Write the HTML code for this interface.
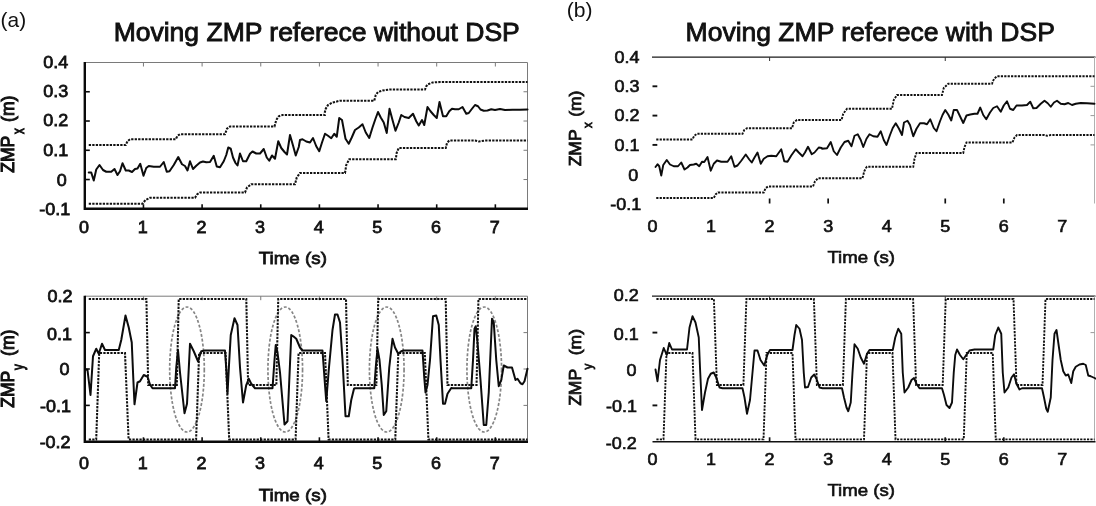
<!DOCTYPE html>
<html lang="en"><head><meta charset="utf-8"><title>Moving ZMP reference</title>
<style>html,body{margin:0;padding:0;background:#fff;}body{width:1096px;height:506px;overflow:hidden;}svg{display:block;filter:blur(0.45px);}</style>
</head><body>
<svg width="1096" height="506" viewBox="0 0 1096 506" font-family="'Liberation Sans', sans-serif" fill="#111">
<rect width="1096" height="506" fill="#fff"/>
<path d="M84.8,62.5 H527.5 V208.8" fill="none" stroke="#7a7a7a" stroke-width="1"/>
<path d="M143.45,62.5 v4" stroke="#7a7a7a" stroke-width="1" fill="none"/>
<path d="M202.10,62.5 v4" stroke="#7a7a7a" stroke-width="1" fill="none"/>
<path d="M260.75,62.5 v4" stroke="#7a7a7a" stroke-width="1" fill="none"/>
<path d="M319.40,62.5 v4" stroke="#7a7a7a" stroke-width="1" fill="none"/>
<path d="M378.05,62.5 v4" stroke="#7a7a7a" stroke-width="1" fill="none"/>
<path d="M436.70,62.5 v4" stroke="#7a7a7a" stroke-width="1" fill="none"/>
<path d="M495.35,62.5 v4" stroke="#7a7a7a" stroke-width="1" fill="none"/>
<path d="M527.5,91.76 h-4" stroke="#7a7a7a" stroke-width="1" fill="none"/>
<path d="M527.5,121.02 h-4" stroke="#7a7a7a" stroke-width="1" fill="none"/>
<path d="M527.5,150.28 h-4" stroke="#7a7a7a" stroke-width="1" fill="none"/>
<path d="M527.5,179.54 h-4" stroke="#7a7a7a" stroke-width="1" fill="none"/>
<path d="M84.8,62.0 V208.8 H528.0" fill="none" stroke="#0a0a0a" stroke-width="2.4" stroke-linejoin="miter"/>
<path d="M143.45,208.8 v-4.5" stroke="#0a0a0a" stroke-width="1.6" fill="none"/>
<path d="M202.10,208.8 v-4.5" stroke="#0a0a0a" stroke-width="1.6" fill="none"/>
<path d="M260.75,208.8 v-4.5" stroke="#0a0a0a" stroke-width="1.6" fill="none"/>
<path d="M319.40,208.8 v-4.5" stroke="#0a0a0a" stroke-width="1.6" fill="none"/>
<path d="M378.05,208.8 v-4.5" stroke="#0a0a0a" stroke-width="1.6" fill="none"/>
<path d="M436.70,208.8 v-4.5" stroke="#0a0a0a" stroke-width="1.6" fill="none"/>
<path d="M495.35,208.8 v-4.5" stroke="#0a0a0a" stroke-width="1.6" fill="none"/>
<path d="M84.8,91.76 h5" stroke="#0a0a0a" stroke-width="1.6" fill="none"/>
<path d="M84.8,121.02 h5" stroke="#0a0a0a" stroke-width="1.6" fill="none"/>
<path d="M84.8,150.28 h5" stroke="#0a0a0a" stroke-width="1.6" fill="none"/>
<path d="M84.8,179.54 h5" stroke="#0a0a0a" stroke-width="1.6" fill="none"/>
<path d="M88.75,145.00 L125.75,145.00 L127.50,141.25 L130.00,139.25 L175.75,139.25 L177.50,135.75 L180.00,134.25 L225.00,134.25 L227.00,128.75 L230.00,126.50 L274.50,126.50 L276.25,120.00 L278.75,116.25 L282.50,115.00 L324.50,115.00 L324.25,114.50 L325.75,108.75 L328.00,105.00 L332.50,102.50 L340.00,100.75 L374.25,100.75 L375.75,95.00 L378.00,92.00 L382.50,90.50 L390.00,89.50 L425.00,89.50 L426.25,86.25 L428.00,84.25 L432.50,82.50 L440.00,82.00 L527.50,82.00" fill="none" stroke="#111" stroke-width="2.05" stroke-dasharray="2.3 1.2"/>
<path d="M88.75,203.75 L142.50,203.75 L145.50,200.00 L150.00,197.75 L195.00,197.75 L197.00,194.50 L200.00,192.50 L245.00,192.50 L247.00,187.50 L251.25,184.25 L295.00,184.25 L296.75,177.50 L300.00,173.00 L345.00,173.00 L345.00,173.00 L346.25,165.00 L349.25,159.25 L395.75,159.25 L396.75,152.50 L398.75,148.00 L445.75,148.00 L447.00,143.00 L449.25,140.50 L475.00,140.50 L478.75,141.50 L485.00,140.50 L527.50,140.50" fill="none" stroke="#111" stroke-width="2.05" stroke-dasharray="2.3 1.2"/>
<path d="M88.75,172.50 L91.25,172.50 L93.75,180.50 L96.25,169.50 L99.50,165.00 L103.00,170.00 L106.25,171.75 L111.25,171.75 L114.50,169.00 L117.50,175.00 L120.00,171.25 L122.50,163.25 L125.75,170.50 L128.75,170.50 L132.00,172.00 L135.00,169.00 L137.50,168.50 L140.25,163.75 L143.50,175.75 L146.25,168.00 L148.75,166.00 L153.75,166.75 L160.00,166.75 L163.75,162.00 L166.75,171.75 L169.50,171.25 L173.75,165.00 L178.25,157.00 L182.00,164.25 L185.00,166.00 L187.50,170.50 L190.00,161.25 L193.00,169.00 L196.25,165.75 L200.00,162.50 L203.00,161.50 L206.25,162.25 L210.00,162.00 L213.75,155.75 L216.75,166.50 L220.00,167.25 L223.75,161.25 L226.25,155.00 L228.25,147.50 L230.75,148.75 L233.00,157.50 L235.50,163.00 L237.50,165.50 L240.00,153.50 L243.00,161.25 L246.25,161.25 L250.00,153.75 L252.50,151.50 L256.25,153.50 L260.00,153.50 L263.75,149.00 L266.75,157.50 L269.25,160.75 L272.00,155.50 L275.00,158.75 L278.25,141.25 L281.25,148.00 L284.50,152.00 L287.00,154.50 L290.00,135.00 L293.00,145.50 L295.75,155.50 L298.75,147.00 L300.00,140.00 L302.50,139.25 L306.25,141.50 L310.00,142.50 L313.00,138.00 L316.25,146.25 L319.25,151.25 L322.00,142.50 L325.00,133.75 L328.00,135.75 L331.25,138.25 L334.25,133.75 L336.75,136.75 L339.25,118.00 L342.00,120.00 L345.50,138.75 L348.75,143.75 L351.75,137.50 L355.00,130.00 L358.75,127.50 L362.50,124.25 L365.75,132.50 L369.25,138.00 L372.50,127.50 L375.50,118.75 L378.00,112.00 L380.75,117.50 L383.75,122.50 L386.75,133.00 L389.50,108.75 L392.50,120.00 L395.50,130.75 L398.75,122.50 L401.25,115.00 L404.50,117.00 L408.75,118.00 L413.00,113.75 L416.25,121.25 L418.75,125.50 L422.00,120.00 L424.25,125.00 L427.50,107.00 L430.50,111.25 L433.75,115.00 L436.75,118.00 L439.50,102.00 L443.00,116.25 L446.25,116.25 L449.25,111.25 L452.00,108.75 L455.00,109.25 L458.75,109.25 L462.50,107.00 L466.25,113.75 L468.75,113.00 L472.00,108.75 L475.00,105.00 L478.00,106.25 L480.50,109.50 L483.75,110.75 L487.50,110.50 L491.25,109.25 L495.00,110.00 L500.00,109.00 L505.00,110.00 L512.50,109.75 L520.00,109.75 L527.50,109.50" fill="none" stroke="#0c0c0c" stroke-width="2.0" stroke-linejoin="round" stroke-linecap="round"/>
<path d="M84.8,296.2 H527.5 V441.8" fill="none" stroke="#7a7a7a" stroke-width="1"/>
<path d="M143.45,296.2 v4" stroke="#7a7a7a" stroke-width="1" fill="none"/>
<path d="M202.10,296.2 v4" stroke="#7a7a7a" stroke-width="1" fill="none"/>
<path d="M260.75,296.2 v4" stroke="#7a7a7a" stroke-width="1" fill="none"/>
<path d="M319.40,296.2 v4" stroke="#7a7a7a" stroke-width="1" fill="none"/>
<path d="M378.05,296.2 v4" stroke="#7a7a7a" stroke-width="1" fill="none"/>
<path d="M436.70,296.2 v4" stroke="#7a7a7a" stroke-width="1" fill="none"/>
<path d="M495.35,296.2 v4" stroke="#7a7a7a" stroke-width="1" fill="none"/>
<path d="M527.5,332.60 h-4" stroke="#7a7a7a" stroke-width="1" fill="none"/>
<path d="M527.5,369.00 h-4" stroke="#7a7a7a" stroke-width="1" fill="none"/>
<path d="M527.5,405.40 h-4" stroke="#7a7a7a" stroke-width="1" fill="none"/>
<ellipse cx="187" cy="369.5" rx="17.3" ry="62.5" fill="none" stroke="#858585" stroke-width="1.7" stroke-dasharray="3 1.8"/>
<ellipse cx="285.25" cy="369.5" rx="17.3" ry="62.5" fill="none" stroke="#858585" stroke-width="1.7" stroke-dasharray="3 1.8"/>
<ellipse cx="386.75" cy="369.5" rx="17.3" ry="62.5" fill="none" stroke="#858585" stroke-width="1.7" stroke-dasharray="3 1.8"/>
<ellipse cx="484.25" cy="369.5" rx="17.3" ry="62.5" fill="none" stroke="#858585" stroke-width="1.7" stroke-dasharray="3 1.8"/>
<path d="M88.75,298.90 L146.40,298.90 L148.20,385.00 L176.85,385.00 L178.75,298.90 L246.30,298.90 L248.10,385.00 L276.35,385.00 L278.25,298.90 L346.00,298.90 L347.80,385.00 L376.35,385.00 L378.25,298.90 L445.70,298.90 L447.50,385.00 L476.55,385.00 L478.45,298.90 L527.50,298.90" fill="none" stroke="#111" stroke-width="2.05" stroke-dasharray="2.3 1.2"/>
<path d="M88.75,439.40 L96.20,439.40 L99.20,353.00 L125.00,353.00 L128.60,439.40 L196.10,439.40 L199.10,353.00 L225.60,353.00 L229.20,439.40 L295.60,439.40 L298.60,353.00 L325.00,353.00 L328.60,439.40 L395.30,439.40 L398.30,353.00 L424.80,353.00 L428.40,439.40 L527.50,439.40" fill="none" stroke="#111" stroke-width="2.05" stroke-dasharray="2.3 1.2"/>
<path d="M85.50,369.50 L87.50,370.00 L90.50,395.00 L93.00,356.25 L96.25,348.75 L98.75,353.75 L102.00,343.75 L105.00,350.00 L118.75,350.00 L121.25,340.00 L125.50,315.50 L128.75,327.50 L131.75,342.50 L133.25,377.50 L134.50,404.25 L137.50,382.50 L140.00,381.25 L143.75,375.00 L147.50,376.75 L150.00,384.50 L152.50,388.25 L175.00,388.25 L176.25,367.50 L178.00,350.00 L180.00,372.50 L184.50,413.25 L187.00,403.75 L190.00,343.75 L193.75,351.25 L198.00,361.25 L201.25,351.25 L205.00,350.50 L225.00,350.50 L226.50,372.50 L227.50,393.75 L229.00,365.00 L230.75,335.00 L234.50,318.25 L237.50,325.00 L240.00,367.50 L243.00,402.50 L246.25,385.00 L248.75,378.75 L251.25,383.75 L255.00,388.25 L272.50,388.25 L274.50,360.00 L275.75,345.00 L277.50,352.50 L280.00,372.50 L284.50,424.50 L287.50,421.25 L291.25,335.00 L293.25,336.25 L296.25,338.75 L300.00,347.50 L302.50,350.50 L322.50,350.50 L325.00,385.00 L326.25,401.25 L328.75,370.00 L332.50,330.00 L335.00,314.50 L337.50,314.50 L340.00,322.50 L342.50,360.00 L345.50,416.25 L348.75,416.25 L351.25,400.00 L354.00,388.75 L355.00,388.25 L374.25,388.25 L375.75,367.50 L377.50,348.75 L379.50,360.00 L381.75,385.00 L383.75,415.00 L386.25,411.25 L389.25,367.50 L392.50,338.75 L395.00,347.50 L398.25,353.75 L401.25,351.25 L403.75,350.50 L422.50,350.50 L424.25,377.50 L425.50,392.50 L427.50,385.00 L430.00,360.00 L433.00,316.25 L436.25,315.50 L438.75,325.00 L440.50,360.00 L443.00,403.75 L445.00,403.75 L447.50,393.75 L451.25,388.00 L453.00,388.25 L471.25,388.25 L473.00,360.00 L474.50,328.75 L475.75,326.25 L477.50,342.50 L480.50,380.00 L483.75,425.00 L486.25,425.00 L488.75,392.50 L492.00,318.75 L493.75,322.50 L496.25,360.00 L498.75,386.25 L501.25,380.00 L503.75,365.50 L507.50,367.50 L512.00,367.50 L515.50,380.00 L517.50,378.75 L520.50,383.25 L522.50,384.25 L524.50,381.25 L527.50,368.75" fill="none" stroke="#0c0c0c" stroke-width="2.0" stroke-linejoin="round" stroke-linecap="round"/>
<path d="M84.8,295.7 V441.8 H528.0" fill="none" stroke="#0a0a0a" stroke-width="2.4"/>
<path d="M143.45,441.8 v-4.5" stroke="#0a0a0a" stroke-width="1.6" fill="none"/>
<path d="M202.10,441.8 v-4.5" stroke="#0a0a0a" stroke-width="1.6" fill="none"/>
<path d="M260.75,441.8 v-4.5" stroke="#0a0a0a" stroke-width="1.6" fill="none"/>
<path d="M319.40,441.8 v-4.5" stroke="#0a0a0a" stroke-width="1.6" fill="none"/>
<path d="M378.05,441.8 v-4.5" stroke="#0a0a0a" stroke-width="1.6" fill="none"/>
<path d="M436.70,441.8 v-4.5" stroke="#0a0a0a" stroke-width="1.6" fill="none"/>
<path d="M495.35,441.8 v-4.5" stroke="#0a0a0a" stroke-width="1.6" fill="none"/>
<path d="M84.8,332.60 h5" stroke="#0a0a0a" stroke-width="1.6" fill="none"/>
<path d="M84.8,369.00 h5" stroke="#0a0a0a" stroke-width="1.6" fill="none"/>
<path d="M84.8,405.40 h5" stroke="#0a0a0a" stroke-width="1.6" fill="none"/>
<text transform="translate(0.60,26.80) scale(1.020,1)" font-size="20.5" text-anchor="start" font-weight="normal" >(a)</text>
<text transform="translate(316.70,40.50) scale(1.020,1)" font-size="26" text-anchor="middle" font-weight="normal" stroke="#111" stroke-width="0.9">Moving ZMP referece without DSP</text>
<text transform="translate(68.30,68.49) scale(1.040,1)" font-size="17.3" text-anchor="end" font-weight="normal" stroke="#111" stroke-width="0.75">0.4</text>
<text transform="translate(68.30,97.45) scale(1.040,1)" font-size="17.3" text-anchor="end" font-weight="normal" stroke="#111" stroke-width="0.75">0.3</text>
<text transform="translate(68.30,126.21) scale(1.040,1)" font-size="17.3" text-anchor="end" font-weight="normal" stroke="#111" stroke-width="0.75">0.2</text>
<text transform="translate(68.30,155.97) scale(1.040,1)" font-size="17.3" text-anchor="end" font-weight="normal" stroke="#111" stroke-width="0.75">0.1</text>
<text transform="translate(66.80,186.03) scale(1.040,1)" font-size="17.3" text-anchor="end" font-weight="normal" stroke="#111" stroke-width="0.75">0</text>
<text transform="translate(70.30,215.29) scale(1.040,1)" font-size="17.3" text-anchor="end" font-weight="normal" stroke="#111" stroke-width="0.75">-0.1</text>
<text transform="translate(84.10,232.80) scale(1.040,1)" font-size="17.3" text-anchor="middle" font-weight="normal" stroke="#111" stroke-width="0.75">0</text>
<text transform="translate(142.75,232.80) scale(1.040,1)" font-size="17.3" text-anchor="middle" font-weight="normal" stroke="#111" stroke-width="0.75">1</text>
<text transform="translate(201.40,232.80) scale(1.040,1)" font-size="17.3" text-anchor="middle" font-weight="normal" stroke="#111" stroke-width="0.75">2</text>
<text transform="translate(260.05,232.80) scale(1.040,1)" font-size="17.3" text-anchor="middle" font-weight="normal" stroke="#111" stroke-width="0.75">3</text>
<text transform="translate(318.70,232.80) scale(1.040,1)" font-size="17.3" text-anchor="middle" font-weight="normal" stroke="#111" stroke-width="0.75">4</text>
<text transform="translate(377.35,232.80) scale(1.040,1)" font-size="17.3" text-anchor="middle" font-weight="normal" stroke="#111" stroke-width="0.75">5</text>
<text transform="translate(436.00,232.80) scale(1.040,1)" font-size="17.3" text-anchor="middle" font-weight="normal" stroke="#111" stroke-width="0.75">6</text>
<text transform="translate(494.65,232.80) scale(1.040,1)" font-size="17.3" text-anchor="middle" font-weight="normal" stroke="#111" stroke-width="0.75">7</text>
<text transform="translate(292.80,263.90) scale(1.088,1)" font-size="17.3" text-anchor="middle" font-weight="normal" stroke="#111" stroke-width="0.75">Time (s)</text>
<text transform="translate(72.50,301.89) scale(1.040,1)" font-size="17.3" text-anchor="end" font-weight="normal" stroke="#111" stroke-width="0.75">0.2</text>
<text transform="translate(72.00,340.19) scale(1.040,1)" font-size="17.3" text-anchor="end" font-weight="normal" stroke="#111" stroke-width="0.75">0.1</text>
<text transform="translate(69.50,375.19) scale(1.040,1)" font-size="17.3" text-anchor="end" font-weight="normal" stroke="#111" stroke-width="0.75">0</text>
<text transform="translate(70.90,412.09) scale(1.040,1)" font-size="17.3" text-anchor="end" font-weight="normal" stroke="#111" stroke-width="0.75">-0.1</text>
<text transform="translate(70.60,448.29) scale(1.040,1)" font-size="17.3" text-anchor="end" font-weight="normal" stroke="#111" stroke-width="0.75">-0.2</text>
<text transform="translate(84.10,469.30) scale(1.040,1)" font-size="17.3" text-anchor="middle" font-weight="normal" stroke="#111" stroke-width="0.75">0</text>
<text transform="translate(142.75,469.30) scale(1.040,1)" font-size="17.3" text-anchor="middle" font-weight="normal" stroke="#111" stroke-width="0.75">1</text>
<text transform="translate(201.40,469.30) scale(1.040,1)" font-size="17.3" text-anchor="middle" font-weight="normal" stroke="#111" stroke-width="0.75">2</text>
<text transform="translate(260.05,469.30) scale(1.040,1)" font-size="17.3" text-anchor="middle" font-weight="normal" stroke="#111" stroke-width="0.75">3</text>
<text transform="translate(318.70,469.30) scale(1.040,1)" font-size="17.3" text-anchor="middle" font-weight="normal" stroke="#111" stroke-width="0.75">4</text>
<text transform="translate(377.35,469.30) scale(1.040,1)" font-size="17.3" text-anchor="middle" font-weight="normal" stroke="#111" stroke-width="0.75">5</text>
<text transform="translate(436.00,469.30) scale(1.040,1)" font-size="17.3" text-anchor="middle" font-weight="normal" stroke="#111" stroke-width="0.75">6</text>
<text transform="translate(494.65,469.30) scale(1.040,1)" font-size="17.3" text-anchor="middle" font-weight="normal" stroke="#111" stroke-width="0.75">7</text>
<text transform="translate(292.80,500.90) scale(1.088,1)" font-size="17.3" text-anchor="middle" font-weight="normal" stroke="#111" stroke-width="0.75">Time (s)</text>
<g>
<text transform="translate(14.0,172.8) rotate(-90) scale(1,1.04)" font-size="17.5" stroke="#111" stroke-width="1.0">ZMP</text>
<text transform="translate(23.8,133.9) rotate(-90) scale(1,1.38)" font-size="11.5" stroke="#111" stroke-width="0.80">x</text>
<text transform="translate(14.0,121.9) rotate(-90) scale(1,1.04)" font-size="17.5" stroke="#111" stroke-width="1.0">(m)</text>
</g>
<g>
<text transform="translate(14.0,407.8) rotate(-90) scale(1,1.04)" font-size="17.5" stroke="#111" stroke-width="1.0">ZMP</text>
<text transform="translate(23.8,369.9) rotate(-90) scale(1,1.38)" font-size="11.5" stroke="#111" stroke-width="0.80">y</text>
<text transform="translate(14.0,355.9) rotate(-90) scale(1,1.04)" font-size="17.5" stroke="#111" stroke-width="1.0">(m)</text>
</g>
<path d="M652.0,57.1 H1095.5" fill="none" stroke="#1a1a1a" stroke-width="1.25"/>
<path d="M1094.5,57.0 V203.5" fill="none" stroke="#b0b0b0" stroke-width="1"/>
<path d="M1094.5,86.30 h-4" stroke="#999" stroke-width="1" fill="none"/>
<path d="M1094.5,115.60 h-4" stroke="#999" stroke-width="1" fill="none"/>
<path d="M1094.5,144.90 h-4" stroke="#999" stroke-width="1" fill="none"/>
<path d="M769.60,57.0 v4" stroke="#333" stroke-width="1" fill="none"/>
<path d="M945.25,57.0 v4" stroke="#333" stroke-width="1" fill="none"/>
<path d="M769.60,203.5 v-5" stroke="#111" stroke-width="1.7" fill="none"/>
<path d="M828.15,203.5 v-5" stroke="#111" stroke-width="1.7" fill="none"/>
<path d="M945.25,203.5 v-5" stroke="#111" stroke-width="1.7" fill="none"/>
<path d="M1003.80,203.5 v-5" stroke="#111" stroke-width="1.7" fill="none"/>
<path d="M652.5,86.30 h4.8" stroke="#111" stroke-width="1.9" fill="none"/>
<path d="M652.5,115.60 h4.8" stroke="#111" stroke-width="1.9" fill="none"/>
<path d="M652.5,144.90 h4.8" stroke="#111" stroke-width="1.9" fill="none"/>
<path d="M656.25,139.50 L692.50,139.50 L694.25,135.75 L697.00,133.75 L742.50,133.75 L744.25,130.00 L747.00,128.25 L792.00,128.25 L793.75,122.50 L797.00,120.00 L841.25,120.00 L841.50,120.00 L843.25,113.75 L847.00,108.75 L892.00,108.75 L893.75,100.00 L897.00,95.00 L942.00,95.00 L943.75,88.00 L948.25,83.75 L992.00,83.75 L994.00,78.75 L997.00,76.25 L1094.50,76.25" fill="none" stroke="#111" stroke-width="1.9" stroke-dasharray="2.2 1.2"/>
<path d="M656.25,198.00 L713.75,198.00 L715.75,194.25 L718.00,192.50 L763.75,192.50 L765.50,188.25 L768.00,186.50 L813.00,186.50 L815.00,181.25 L818.00,178.25 L862.50,178.25 L864.25,171.25 L866.25,167.50 L867.00,166.75 L913.25,166.75 L914.50,158.75 L916.50,153.00 L963.25,153.00 L964.50,147.00 L966.50,142.50 L1012.50,142.50 L1014.50,137.50 L1017.00,135.00 L1044.50,135.00 L1047.00,135.75 L1050.75,135.00 L1094.50,135.00" fill="none" stroke="#111" stroke-width="1.9" stroke-dasharray="2.2 1.2"/>
<path d="M655.50,167.00 L657.50,164.25 L659.25,166.25 L661.25,175.50 L663.25,165.00 L666.75,160.00 L670.00,164.50 L673.75,166.25 L678.00,166.25 L681.25,162.50 L684.50,169.50 L687.50,167.50 L690.00,165.00 L693.75,164.50 L696.25,163.75 L699.25,166.25 L702.00,161.75 L704.25,162.00 L707.50,157.00 L710.75,170.75 L713.75,163.75 L717.00,160.50 L721.25,161.75 L727.50,161.75 L731.25,156.25 L734.50,166.75 L737.50,165.50 L741.25,160.75 L745.75,154.50 L749.25,159.50 L751.75,162.50 L754.50,157.50 L757.50,152.50 L760.75,163.75 L763.75,158.75 L767.50,156.25 L771.25,155.75 L776.25,156.25 L781.25,149.25 L784.25,161.25 L787.50,161.75 L791.25,155.50 L795.75,149.25 L798.75,152.50 L802.50,156.25 L805.00,152.50 L808.00,146.75 L811.75,154.25 L814.50,152.50 L818.75,147.50 L821.75,148.00 L822.00,148.75 L827.00,148.25 L830.75,142.00 L833.75,151.25 L837.00,155.00 L840.75,147.50 L844.50,142.00 L848.25,140.75 L851.50,146.25 L854.50,135.75 L857.75,134.25 L860.75,140.00 L863.25,147.00 L866.50,138.75 L869.50,134.25 L873.25,136.25 L877.50,136.75 L880.75,131.25 L883.75,140.00 L886.50,145.00 L890.00,135.00 L892.75,128.00 L895.75,123.25 L899.00,128.75 L902.00,135.00 L904.00,122.50 L907.50,120.75 L910.00,125.00 L913.25,136.25 L916.50,128.75 L920.00,123.25 L924.00,123.25 L927.00,124.25 L930.25,119.25 L933.75,128.00 L936.50,131.25 L940.00,121.25 L942.50,115.00 L945.25,110.00 L948.25,114.50 L951.25,120.50 L953.75,110.00 L957.00,110.00 L960.00,116.25 L963.25,123.00 L966.50,115.50 L970.25,114.50 L974.50,113.75 L977.50,113.75 L980.25,107.50 L983.25,115.00 L986.25,119.25 L990.00,112.50 L993.25,108.00 L997.00,106.25 L1000.75,111.75 L1003.75,105.50 L1007.00,101.25 L1010.00,108.75 L1013.25,110.00 L1016.50,105.50 L1022.00,105.50 L1027.00,105.00 L1030.25,101.75 L1033.25,108.25 L1036.50,108.00 L1040.75,103.75 L1044.50,100.75 L1047.75,103.25 L1050.75,106.75 L1054.00,102.50 L1057.00,100.75 L1060.75,103.75 L1064.50,104.25 L1068.25,103.00 L1072.00,105.00 L1075.75,103.75 L1080.75,103.00 L1087.00,103.25 L1094.50,103.75" fill="none" stroke="#0c0c0c" stroke-width="1.9" stroke-linejoin="round" stroke-linecap="round"/>
<path d="M652.0,296.2 H1095.5" fill="none" stroke="#1a1a1a" stroke-width="1.25"/>
<path d="M1094.5,296.2 V441.8" fill="none" stroke="#b0b0b0" stroke-width="1"/>
<path d="M1094.5,332.60 h-4" stroke="#999" stroke-width="1" fill="none"/>
<path d="M769.60,296.2 v3.5" stroke="#333" stroke-width="1" fill="none"/>
<path d="M945.25,296.2 v3.5" stroke="#333" stroke-width="1" fill="none"/>
<path d="M656.40,299.00 L713.90,299.00 L716.90,385.00 L743.40,385.00 L746.40,299.00 L813.90,299.00 L816.90,385.00 L842.90,385.00 L845.90,299.00 L913.10,299.00 L916.10,385.00 L942.70,385.00 L945.70,299.00 L1013.50,299.00 L1016.50,385.00 L1042.50,385.00 L1045.50,299.00 L1094.50,299.00" fill="none" stroke="#111" stroke-width="1.9" stroke-dasharray="2.2 1.2"/>
<path d="M656.40,439.40 L663.50,439.40 L666.50,353.00 L692.50,353.00 L695.50,439.40 L763.50,439.40 L766.50,353.00 L792.50,353.00 L795.50,439.40 L864.00,439.40 L867.00,353.00 L892.50,353.00 L895.50,439.40 L963.75,439.40 L966.75,353.00 L992.75,353.00 L995.75,439.40 L1094.50,439.40" fill="none" stroke="#111" stroke-width="1.9" stroke-dasharray="2.2 1.2"/>
<path d="M655.50,369.50 L657.50,381.25 L660.00,360.00 L663.75,348.00 L666.75,355.00 L669.25,343.00 L672.00,349.50 L687.00,349.50 L689.50,327.50 L692.50,316.25 L695.50,322.50 L698.75,337.50 L700.00,367.50 L702.00,410.00 L705.00,392.50 L708.00,378.75 L710.75,373.75 L713.75,372.50 L716.25,377.50 L719.50,387.50 L722.50,388.25 L742.50,388.25 L744.50,397.50 L747.00,413.75 L750.00,400.00 L752.50,372.50 L754.50,350.50 L757.50,350.50 L760.50,360.00 L764.25,365.50 L767.50,354.50 L770.00,350.00 L792.50,350.00 L794.50,335.00 L796.25,325.00 L799.50,328.75 L802.00,340.00 L803.75,372.50 L805.00,387.50 L808.00,387.00 L811.25,377.50 L814.25,374.50 L816.75,379.50 L819.50,387.50 L822.50,388.25 L842.00,388.25 L844.00,397.50 L846.50,407.50 L848.25,411.25 L850.75,402.50 L852.50,372.50 L854.50,344.25 L857.75,348.75 L860.75,357.50 L864.00,363.75 L867.00,353.75 L869.50,350.00 L892.75,350.00 L895.25,337.50 L898.25,328.75 L901.25,333.75 L902.75,372.50 L904.50,392.50 L908.25,387.50 L911.50,380.00 L914.00,378.00 L916.50,383.75 L919.50,388.25 L942.00,388.25 L944.00,395.00 L946.50,405.00 L949.50,408.00 L952.00,402.50 L953.75,372.50 L955.25,355.00 L957.00,349.50 L960.00,355.00 L963.25,359.25 L966.25,355.00 L969.50,350.50 L974.50,349.50 L993.25,349.50 L995.25,335.00 L998.25,327.50 L1001.25,333.75 L1002.75,372.50 L1004.50,392.50 L1008.25,387.50 L1011.50,377.50 L1014.00,374.25 L1016.50,383.75 L1019.50,389.50 L1022.00,388.25 L1042.00,388.25 L1044.00,397.50 L1046.25,408.75 L1047.75,411.75 L1050.75,397.50 L1052.50,360.00 L1054.50,333.75 L1056.50,330.00 L1058.25,342.50 L1060.75,360.00 L1063.25,371.25 L1065.75,375.50 L1068.25,374.50 L1071.25,383.00 L1073.25,371.25 L1075.75,366.75 L1079.50,364.50 L1083.25,363.75 L1085.75,365.00 L1088.25,375.50 L1090.75,376.25 L1094.50,378.00 L1096.00,378.75" fill="none" stroke="#0c0c0c" stroke-width="1.9" stroke-linejoin="round" stroke-linecap="round"/>
<path d="M652.5,441.8 H1095.5" fill="none" stroke="#111" stroke-width="1.5"/>
<path d="M769.60,441.8 v-4.5" stroke="#111" stroke-width="1.7" fill="none"/>
<path d="M945.25,441.8 v-4.5" stroke="#111" stroke-width="1.7" fill="none"/>
<path d="M1003.80,441.8 v-4.5" stroke="#111" stroke-width="1.7" fill="none"/>
<path d="M652.5,332.60 h4.8" stroke="#111" stroke-width="1.9" fill="none"/>
<path d="M652.5,405.40 h4.8" stroke="#111" stroke-width="1.9" fill="none"/>
<text transform="translate(566.80,17.00) scale(1.030,1)" font-size="20.5" text-anchor="start" font-weight="normal" >(b)</text>
<text transform="translate(870.20,41.10) scale(1.020,1)" font-size="26" text-anchor="middle" font-weight="normal" stroke="#111" stroke-width="0.85">Moving ZMP referece with DSP</text>
<text transform="translate(639.60,62.89) scale(1.040,1)" font-size="17.3" text-anchor="end" font-weight="normal" stroke="#111" stroke-width="0.65">0.4</text>
<text transform="translate(639.60,92.19) scale(1.040,1)" font-size="17.3" text-anchor="end" font-weight="normal" stroke="#111" stroke-width="0.65">0.3</text>
<text transform="translate(639.60,120.99) scale(1.040,1)" font-size="17.3" text-anchor="end" font-weight="normal" stroke="#111" stroke-width="0.65">0.2</text>
<text transform="translate(639.60,151.49) scale(1.040,1)" font-size="17.3" text-anchor="end" font-weight="normal" stroke="#111" stroke-width="0.65">0.1</text>
<text transform="translate(638.20,180.99) scale(1.040,1)" font-size="17.3" text-anchor="end" font-weight="normal" stroke="#111" stroke-width="0.65">0</text>
<text transform="translate(641.20,210.29) scale(1.040,1)" font-size="17.3" text-anchor="end" font-weight="normal" stroke="#111" stroke-width="0.65">-0.1</text>
<text transform="translate(652.50,231.60) scale(1.040,1)" font-size="17.3" text-anchor="middle" font-weight="normal" stroke="#111" stroke-width="0.65">0</text>
<text transform="translate(711.05,231.60) scale(1.040,1)" font-size="17.3" text-anchor="middle" font-weight="normal" stroke="#111" stroke-width="0.65">1</text>
<text transform="translate(769.60,231.60) scale(1.040,1)" font-size="17.3" text-anchor="middle" font-weight="normal" stroke="#111" stroke-width="0.65">2</text>
<text transform="translate(828.15,231.60) scale(1.040,1)" font-size="17.3" text-anchor="middle" font-weight="normal" stroke="#111" stroke-width="0.65">3</text>
<text transform="translate(886.70,231.60) scale(1.040,1)" font-size="17.3" text-anchor="middle" font-weight="normal" stroke="#111" stroke-width="0.65">4</text>
<text transform="translate(945.25,231.60) scale(1.040,1)" font-size="17.3" text-anchor="middle" font-weight="normal" stroke="#111" stroke-width="0.65">5</text>
<text transform="translate(1003.80,231.60) scale(1.040,1)" font-size="17.3" text-anchor="middle" font-weight="normal" stroke="#111" stroke-width="0.65">6</text>
<text transform="translate(1062.35,231.60) scale(1.040,1)" font-size="17.3" text-anchor="middle" font-weight="normal" stroke="#111" stroke-width="0.65">7</text>
<text transform="translate(861.20,263.20) scale(1.078,1)" font-size="17.3" text-anchor="middle" font-weight="normal" stroke="#111" stroke-width="0.65">Time (s)</text>
<text transform="translate(638.70,301.49) scale(1.040,1)" font-size="17.3" text-anchor="end" font-weight="normal" stroke="#111" stroke-width="0.65">0.2</text>
<text transform="translate(638.70,340.09) scale(1.040,1)" font-size="17.3" text-anchor="end" font-weight="normal" stroke="#111" stroke-width="0.65">0.1</text>
<text transform="translate(636.40,375.69) scale(1.040,1)" font-size="17.3" text-anchor="end" font-weight="normal" stroke="#111" stroke-width="0.65">0</text>
<text transform="translate(637.00,411.59) scale(1.040,1)" font-size="17.3" text-anchor="end" font-weight="normal" stroke="#111" stroke-width="0.65">-0.1</text>
<text transform="translate(636.80,448.89) scale(1.040,1)" font-size="17.3" text-anchor="end" font-weight="normal" stroke="#111" stroke-width="0.65">-0.2</text>
<text transform="translate(652.50,465.10) scale(1.040,1)" font-size="17.3" text-anchor="middle" font-weight="normal" stroke="#111" stroke-width="0.65">0</text>
<text transform="translate(711.05,465.10) scale(1.040,1)" font-size="17.3" text-anchor="middle" font-weight="normal" stroke="#111" stroke-width="0.65">1</text>
<text transform="translate(769.60,465.10) scale(1.040,1)" font-size="17.3" text-anchor="middle" font-weight="normal" stroke="#111" stroke-width="0.65">2</text>
<text transform="translate(828.15,465.10) scale(1.040,1)" font-size="17.3" text-anchor="middle" font-weight="normal" stroke="#111" stroke-width="0.65">3</text>
<text transform="translate(886.70,465.10) scale(1.040,1)" font-size="17.3" text-anchor="middle" font-weight="normal" stroke="#111" stroke-width="0.65">4</text>
<text transform="translate(945.25,465.10) scale(1.040,1)" font-size="17.3" text-anchor="middle" font-weight="normal" stroke="#111" stroke-width="0.65">5</text>
<text transform="translate(1003.80,465.10) scale(1.040,1)" font-size="17.3" text-anchor="middle" font-weight="normal" stroke="#111" stroke-width="0.65">6</text>
<text transform="translate(1062.35,465.10) scale(1.040,1)" font-size="17.3" text-anchor="middle" font-weight="normal" stroke="#111" stroke-width="0.65">7</text>
<text transform="translate(861.20,496.30) scale(1.078,1)" font-size="17.3" text-anchor="middle" font-weight="normal" stroke="#111" stroke-width="0.65">Time (s)</text>
<g>
<text transform="translate(581.4,166.3) rotate(-90) scale(1,0.93)" font-size="17.5" stroke="#111" stroke-width="0.85">ZMP</text>
<text transform="translate(591.8,128.1) rotate(-90) scale(1,1.15)" font-size="11.5" stroke="#111" stroke-width="0.68">x</text>
<text transform="translate(581.4,116.8) rotate(-90) scale(1,0.93)" font-size="17.5" stroke="#111" stroke-width="0.85">(m)</text>
</g>
<g>
<text transform="translate(581.4,405.8) rotate(-90) scale(1,0.93)" font-size="17.5" stroke="#111" stroke-width="0.85">ZMP</text>
<text transform="translate(591.8,369.5) rotate(-90) scale(1,1.15)" font-size="11.5" stroke="#111" stroke-width="0.68">y</text>
<text transform="translate(581.4,355.2) rotate(-90) scale(1,0.93)" font-size="17.5" stroke="#111" stroke-width="0.85">(m)</text>
</g>
</svg>
</body></html>
